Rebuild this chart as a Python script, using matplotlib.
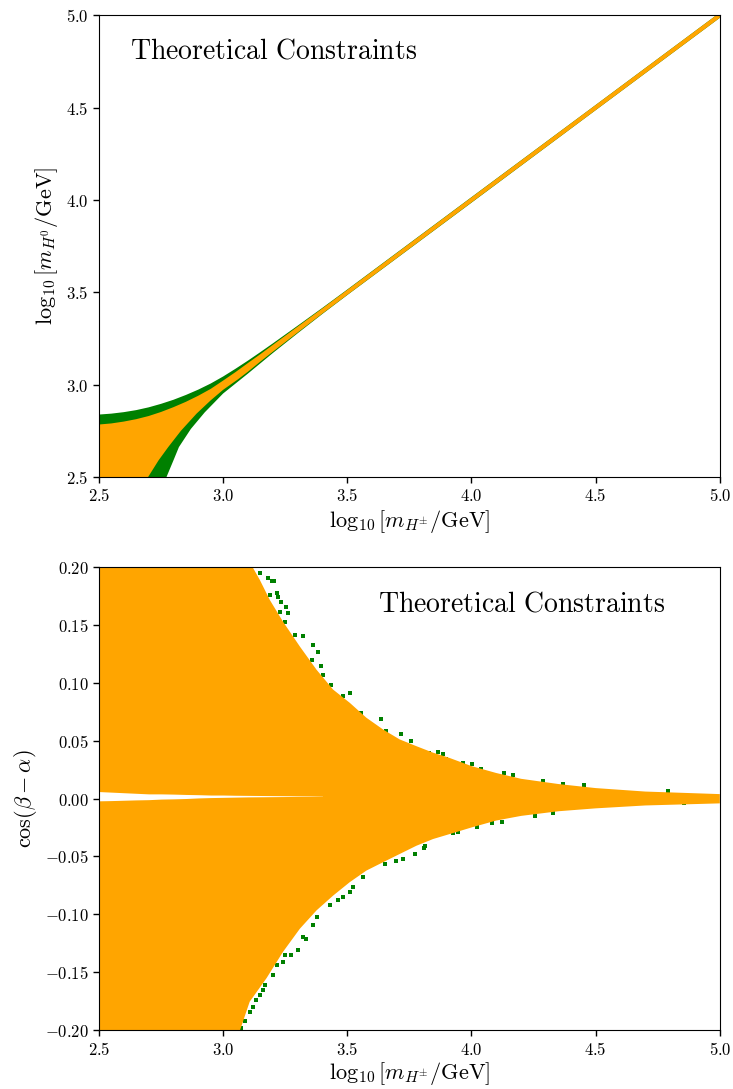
import numpy as np
import matplotlib
matplotlib.use("Agg")
import matplotlib.pyplot as plt
from matplotlib.ticker import FuncFormatter, MultipleLocator

plt.rcParams['mathtext.fontset'] = 'cm'

# ---- top panel: allowed region in (log mH+, log mH0) ----
# orange (all constraints) boundaries
top_up_x = [2.5, 2.55, 2.6, 2.65, 2.7, 2.75, 2.8, 2.85, 2.9, 2.95, 3.0, 3.05, 3.1, 3.15, 3.2, 3.3, 3.4, 3.5, 4.0, 4.5, 5.0]
top_up_y = [2.784, 2.790, 2.800, 2.813, 2.830, 2.852, 2.878, 2.907, 2.940, 2.977, 3.022, 3.068, 3.117, 3.165,
            3.215, 3.314, 3.413, 3.513, 4.014, 4.514, 5.014]
top_lo_x = [2.5, 2.62, 2.698, 2.74, 2.779, 2.83, 2.893, 2.95, 3.0, 3.059, 3.1, 3.15, 3.2, 3.3, 3.4, 3.5, 4.0, 4.5, 5.0]
top_lo_y = [2.0, 2.30, 2.500, 2.59, 2.662, 2.75, 2.843, 2.915, 2.972, 3.028, 3.07, 3.125, 3.178, 3.282,
            3.385, 3.486, 3.986, 4.486, 4.986]
# green (edge points) boundaries
topg_up_x = [2.5, 2.55, 2.6, 2.65, 2.7, 2.75, 2.8, 2.85, 2.9, 2.95, 3.0, 3.05, 3.1, 3.15, 3.2, 3.3, 3.4, 3.5, 4.0, 4.5, 5.0]
topg_up_y = [2.838, 2.843, 2.851, 2.862, 2.877, 2.896, 2.918, 2.944, 2.973, 3.006, 3.044, 3.086, 3.130, 3.176,
             3.223, 3.319, 3.416, 3.515, 4.015, 4.514, 5.014]
topg_lo_x = [2.5, 2.72, 2.772, 2.80, 2.822, 2.87, 2.926, 3.0, 3.1, 3.2, 3.3, 3.4, 3.5, 4.0, 4.5, 5.0]
topg_lo_y = [2.0, 2.33, 2.500, 2.59, 2.662, 2.76, 2.850, 2.952, 3.060, 3.171, 3.278, 3.383, 3.485,
             3.985, 4.486, 4.986]

# ---- bottom panel: allowed cos(beta-alpha) vs log mH+ ----
bot_up_x = [2.5, 3.08, 3.118, 3.148, 3.188, 3.241, 3.309, 3.376, 3.443, 3.51, 3.577, 3.644, 3.711,
            3.778, 3.845, 3.912, 4.0, 4.1, 4.2, 4.35, 4.5, 4.7, 5.0]
bot_up_y = [0.25, 0.25, 0.200, 0.1886, 0.1714, 0.1527, 0.1312, 0.1112, 0.094, 0.0826, 0.0697, 0.0596, 0.051,
            0.0452, 0.0396, 0.0350, 0.028, 0.022, 0.017, 0.0125, 0.009, 0.006, 0.0038]
bot_lo_x = [2.5, 3.04, 3.068, 3.107, 3.175, 3.241, 3.309, 3.376, 3.443, 3.51, 3.577, 3.644, 3.711,
            3.778, 3.845, 3.912, 4.0, 4.1, 4.2, 4.35, 4.5, 4.7, 5.0]
bot_lo_y = [-0.25, -0.25, -0.200, -0.1754, -0.155, -0.1324, -0.1124, -0.0966, -0.0838, -0.0722, -0.0622,
            -0.055, -0.0479, -0.0408, -0.035, -0.0307, -0.025, -0.019, -0.015, -0.011, -0.0085, -0.006, -0.0042]

# green points just outside the orange region
green_up_x = [3.148, 3.181, 3.195, 3.204, 3.188, 3.215, 3.221, 3.235, 3.228, 3.255, 3.261, 3.248, 3.288,
              3.322, 3.362, 3.382, 3.356, 3.396, 3.402, 3.436, 3.483, 3.510, 3.557, 3.637, 3.657, 3.718,
              3.758, 3.831, 3.865, 3.885, 3.898, 3.966, 4.004, 4.040, 4.133, 4.167, 4.288, 4.368, 4.455, 4.790]
green_up_y = [0.1943, 0.190, 0.188, 0.188, 0.1757, 0.177, 0.174, 0.170, 0.1613, 0.1656, 0.160, 0.1527, 0.1413,
              0.140, 0.1327, 0.1269, 0.1198, 0.114, 0.1069, 0.0983, 0.0882, 0.0911, 0.0739, 0.0688, 0.0581, 0.0553,
              0.0495, 0.0396, 0.040, 0.038, 0.0339, 0.0303, 0.0295, 0.0258, 0.0217, 0.0203, 0.0151, 0.0129, 0.0117, 0.0065]
green_lo_x = [3.070, 3.089, 3.108, 3.121, 3.134, 3.148, 3.161, 3.168, 3.201, 3.215, 3.241, 3.248, 3.275, 3.302,
              3.322, 3.335, 3.362, 3.376, 3.429, 3.463, 3.483, 3.510, 3.523, 3.563, 3.650, 3.698, 3.724, 3.771,
              3.809, 3.811, 3.925, 3.945, 4.021, 4.083, 4.124, 4.257, 4.329, 4.855]
green_lo_y = [-0.1977, -0.1917, -0.184, -0.1797, -0.174, -0.1697, -0.1654, -0.1611, -0.1525, -0.1439, -0.141,
              -0.1353, -0.1353, -0.131, -0.1195, -0.121, -0.1095, -0.1023, -0.0923, -0.088, -0.0851, -0.0808,
              -0.0765, -0.0679, -0.0565, -0.0537, -0.0522, -0.0479, -0.043, -0.0408, -0.0298, -0.0287, -0.025,
              -0.0215, -0.020, -0.015, -0.0126, -0.004]

# empty strip near cos(beta-alpha) = 0
gap_x = [2.50, 2.55, 2.60, 2.65, 2.70, 2.75, 2.80, 2.85, 2.90, 2.95, 3.00, 3.05, 3.10, 3.15, 3.20, 3.25, 3.30, 3.35, 3.40]
gap_hi = [0.006, 0.0055, 0.005, 0.0045, 0.004, 0.004, 0.0038, 0.0035, 0.0033, 0.003, 0.003, 0.0028,
          0.0027, 0.0026, 0.0025, 0.0024, 0.0023, 0.0022, 0.0021]
gap_lo = [-0.002, -0.0018, -0.0015, -0.0012, -0.001, -0.0005, -0.0003, 0.0, 0.0005, 0.0008, 0.001, 0.0012,
          0.0014, 0.0015, 0.0016, 0.0017, 0.0018, 0.0018, 0.0019]


def polygon(ux, uy, lx, ly):
    return (np.concatenate([ux, lx[::-1]]), np.concatenate([uy, ly[::-1]]))


fig = plt.figure(figsize=(7.33, 10.89), dpi=100)
ax1 = fig.add_axes([0.135, 0.562, 0.847, 0.424])
ax2 = fig.add_axes([0.135, 0.054, 0.847, 0.4255])

gx, gy = polygon(topg_up_x, topg_up_y, topg_lo_x, topg_lo_y)
ax1.fill(gx, gy, color='green', lw=0)
ox, oy = polygon(top_up_x, top_up_y, top_lo_x, top_lo_y)
ax1.fill(ox, oy, color='orange', lw=0)
ax1.set_xlim(2.5, 5.0)
ax1.set_ylim(2.5, 5.0)
ax1.set_xlabel(r'$\log_{10}[m_{H^{\pm}}/\mathrm{GeV}]$', fontsize=16, labelpad=2)
ax1.set_ylabel(r'$\log_{10}[m_{H^0}/\mathrm{GeV}]$', fontsize=16)
ax1.text(0.05, 0.924, r'$\mathrm{Theoretical\ Constraints}$', transform=ax1.transAxes,
         fontsize=20, va='center', ha='left')

ax2.scatter(green_up_x, green_up_y, s=6, marker='s', color='green', lw=0)
ax2.scatter(green_lo_x, green_lo_y, s=6, marker='s', color='green', lw=0)
bx, by = polygon(bot_up_x, bot_up_y, bot_lo_x, bot_lo_y)
ax2.fill(bx, by, color='orange', lw=0)
ax2.fill_between(gap_x, gap_lo, gap_hi, color='white', lw=0)
ax2.set_xlim(2.5, 5.0)
ax2.set_ylim(-0.2, 0.2)
ax2.set_xlabel(r'$\log_{10}[m_{H^{\pm}}/\mathrm{GeV}]$', fontsize=16, labelpad=1)
ax2.set_ylabel(r'$\cos(\beta-\alpha)$', fontsize=16)
ax2.text(0.449, 0.92, r'$\mathrm{Theoretical\ Constraints}$', transform=ax2.transAxes,
         fontsize=20, va='center', ha='left')

for ax in (ax1, ax2):
    ax.xaxis.set_major_locator(MultipleLocator(0.5))
    ax.xaxis.set_major_formatter(FuncFormatter(lambda v, p: r'$%.1f$' % v))
    ax.tick_params(direction='out', length=4, width=1, labelsize=12)
ax1.yaxis.set_major_locator(MultipleLocator(0.5))
ax1.yaxis.set_major_formatter(FuncFormatter(lambda v, p: r'$%.1f$' % v))
ax2.yaxis.set_major_locator(MultipleLocator(0.05))
ax2.yaxis.set_major_formatter(FuncFormatter(lambda v, p: r'$%.2f$' % v))

fig.savefig('out.png', dpi=100)
